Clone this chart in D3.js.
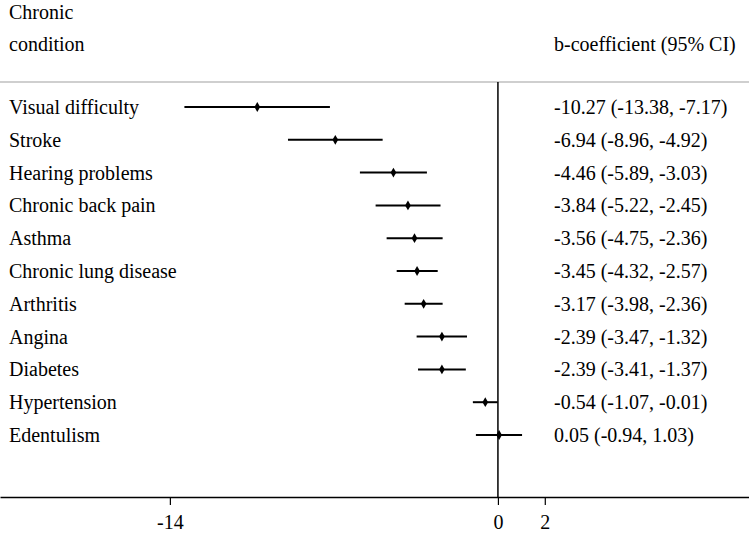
<!DOCTYPE html>
<html>
<head>
<meta charset="utf-8">
<script src="https://cdn.jsdelivr.net/npm/d3@7"></script>
<style>
  html, body { margin: 0; padding: 0; background: #fff; }
  svg { display: block; }
  text { font-family: "Liberation Serif", "Times New Roman", serif; fill: #000; }
</style>
</head>
<body>
<script>
const conditions = ["Visual difficulty", "Stroke", "Hearing problems", "Chronic back pain", "Asthma",
  "Chronic lung disease", "Arthritis", "Angina", "Diabetes", "Hypertension", "Edentulism"];
const estimates = [-10.27, -6.94, -4.46, -3.84, -3.56, -3.45, -3.17, -2.39, -2.39, -0.54, 0.05];
const lowerCI = [-13.38, -8.96, -5.89, -5.22, -4.75, -4.32, -3.98, -3.47, -3.41, -1.07, -0.94];
const upperCI = [-7.17, -4.92, -3.03, -2.45, -2.36, -2.57, -2.36, -1.32, -1.37, -0.01, 1.03];
const tickValues = [-14, 0, 2];
const headerLeft = ["Chronic", "condition"];
const headerRight = "b-coefficient (95% CI)";

const W = 749, H = 535;
const svg = d3.select("body").append("svg").attr("width", W).attr("height", H);

const x = d3.scaleLinear().domain([-21.25, 10.715]).range([0, W]);
const y = d3.scalePoint().domain(conditions).range([107, 435]);

const rows = conditions.map((c, i) => ({ c, b: estimates[i], lo: lowerCI[i], hi: upperCI[i] }));
const fontSize = 20;

// headers
svg.append("text").attr("x", 9).attr("y", 19).attr("font-size", fontSize).text(headerLeft[0]);
svg.append("text").attr("x", 9).attr("y", 51).attr("font-size", fontSize).text(headerLeft[1]);
svg.append("text").attr("x", 554).attr("y", 51).attr("font-size", fontSize).text(headerRight);

// gray separator
svg.append("line").attr("x1", 0).attr("x2", W).attr("y1", 82).attr("y2", 82)
  .attr("stroke", "#cfcfcf").attr("stroke-width", 2);

// zero line
svg.append("line").attr("x1", x(0)).attr("x2", x(0)).attr("y1", 82).attr("y2", 497)
  .attr("stroke", "#000").attr("stroke-width", 1.5);

// axis
const axis = d3.axisBottom(x).tickValues(tickValues).tickSize(8).tickSizeOuter(0)
  .tickFormat(d => String(d));
const gAxis = svg.append("g").attr("transform", "translate(0,497)").call(axis);
gAxis.select(".domain").attr("stroke", "#000").attr("stroke-width", 1.5);
gAxis.selectAll(".tick line").attr("stroke", "#000").attr("stroke-width", 1.2);
gAxis.selectAll(".tick text").attr("font-size", fontSize).attr("dy", 0).attr("y", 32)
  .style("font-family", "'Liberation Serif', 'Times New Roman', serif").attr("fill", "#000");

// CI lines
svg.append("g").selectAll("line").data(rows).join("line")
  .attr("x1", d => x(d.lo)).attr("x2", d => x(d.hi))
  .attr("y1", d => y(d.c)).attr("y2", d => y(d.c))
  .attr("stroke", "#000").attr("stroke-width", 2);

// markers
svg.append("g").selectAll("path").data(rows).join("path")
  .attr("d", d3.symbol().type(d3.symbolDiamond).size(28))
  .attr("transform", d => `translate(${x(d.b)},${y(d.c)})`)
  .attr("fill", "#000");

// row labels
svg.append("g").selectAll("text").data(rows).join("text")
  .attr("x", 9).attr("y", d => y(d.c) + 7).attr("font-size", fontSize).text(d => d.c);

// value labels
const f = v => v.toFixed(2);
svg.append("g").selectAll("text").data(rows).join("text")
  .attr("x", 554).attr("y", d => y(d.c) + 7).attr("font-size", fontSize)
  .text(d => `${f(d.b)} (${f(d.lo)}, ${f(d.hi)})`);
</script>
</body>
</html>
